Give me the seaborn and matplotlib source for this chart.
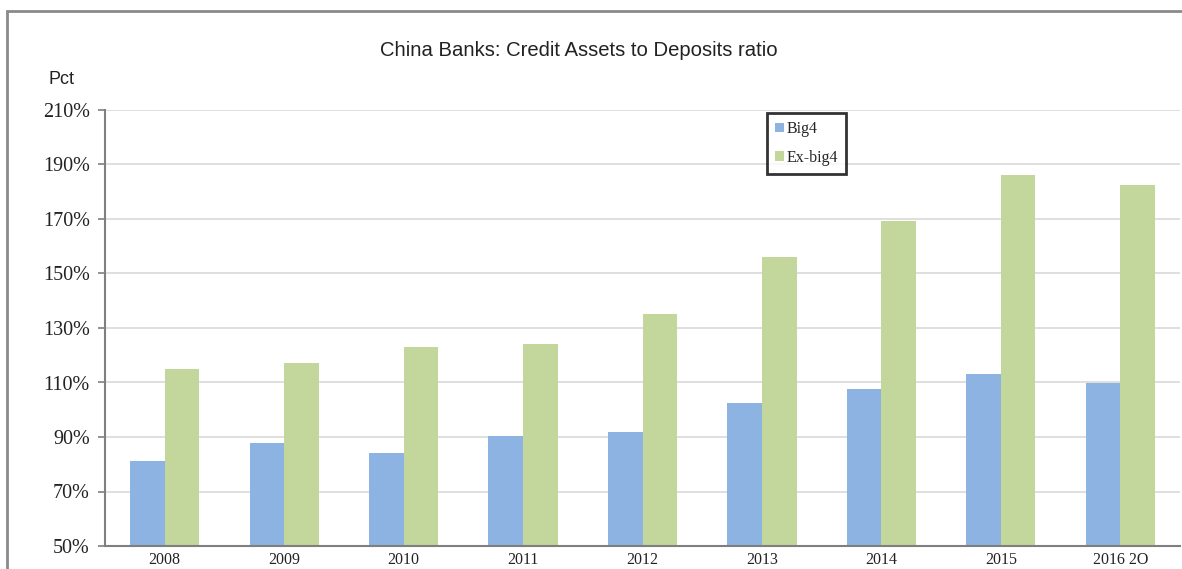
import matplotlib
matplotlib.use("Agg")
import matplotlib.pyplot as plt
import seaborn as sns
import pandas as pd
import numpy as np
from matplotlib.patches import Rectangle
from matplotlib.ticker import FixedLocator

categories = ["2008", "2009", "2010", "2011", "2012", "2013", "2014", "2015", "2016 2O"]
big4 = [81.2, 87.8, 84.1, 90.3, 91.8, 102.5, 107.6, 113.2, 109.8]
ex_big4 = [115.0, 117.2, 123.0, 124.0, 135.1, 156.1, 169.3, 186.1, 182.4]
series_names = ["Big4", "Ex-big4"]
yticks = [50, 70, 90, 110, 130, 150, 170, 190, 210]

df = pd.DataFrame({
    "cat": categories * 2,
    "val": big4 + ex_big4,
    "series": [series_names[0]] * len(categories) + [series_names[1]] * len(categories),
})

sns.set_theme(style="white")
plt.rcParams["font.family"] = ["Liberation Serif", "DejaVu Serif"]

fig = plt.figure(figsize=(11.82, 5.69), dpi=100)
ax = fig.add_axes([105 / 1182, 23 / 569, (1180 - 105) / 1182, (546 - 110) / 569])

palette = {"Big4": "#8DB3E2", "Ex-big4": "#C3D69B"}
sns.barplot(data=df, x="cat", y="val", hue="series", palette=palette, width=0.58,
            saturation=1, ax=ax, order=categories, hue_order=series_names, legend=True,
            linewidth=0, edgecolor="none")

ax.set_ylim(50, 210)
ax.set_xlim(-0.5, len(categories) - 0.5)
ax.set_yticks(yticks)
ax.set_yticklabels([f"{v}%" for v in yticks], fontsize=14.5, color="#222222")
ax.yaxis.grid(True, color="#d9d9d9", linewidth=1.2)
ax.set_axisbelow(True)
ax.set_xlabel("")
ax.set_ylabel("")
ax.tick_params(axis="x", which="major", length=0, labelsize=11.5, pad=4, labelcolor="#222222")
ax.xaxis.set_minor_locator(FixedLocator(np.arange(-0.5, len(categories), 1.0)))
ax.tick_params(axis="x", which="minor", length=5, width=1.2, color="#7f7f7f", direction="out")
ax.tick_params(axis="y", which="major", length=5, width=1.2, color="#7f7f7f", direction="out", left=True, pad=6)
for s in ["top", "right"]:
    ax.spines[s].set_visible(False)
for s in ["left", "bottom"]:
    ax.spines[s].set_color("#7f7f7f")
    ax.spines[s].set_linewidth(1.5)

leg = ax.legend(loc="upper left", bbox_to_anchor=((767 - 105) / 1075, (546 - 113) / 436),
                frameon=True, fancybox=False, fontsize=11.5, handlelength=0.55, handleheight=0.55,
                handletextpad=0.2, labelspacing=0.8, borderpad=0.5, borderaxespad=0)
leg.get_frame().set_edgecolor("black")
leg.get_frame().set_linewidth(2)

fig.text(579 / 1182, 1 - 50 / 569, "China Banks: Credit Assets to Deposits ratio",
         ha="center", va="center", fontsize=14.6, family=["Liberation Sans"], color="#222222")
fig.text(61 / 1182, 1 - 80 / 569, "Pct", ha="center", va="center", fontsize=13,
         family=["Liberation Sans"], color="#222222")

fig.patches.append(Rectangle((7 / 1182, -0.1), 1.2, (569 - 11) / 569 + 0.1, transform=fig.transFigure,
                             fill=False, edgecolor="#8a8a8a", linewidth=2, zorder=0))

fig.savefig("out.png", dpi=100)
